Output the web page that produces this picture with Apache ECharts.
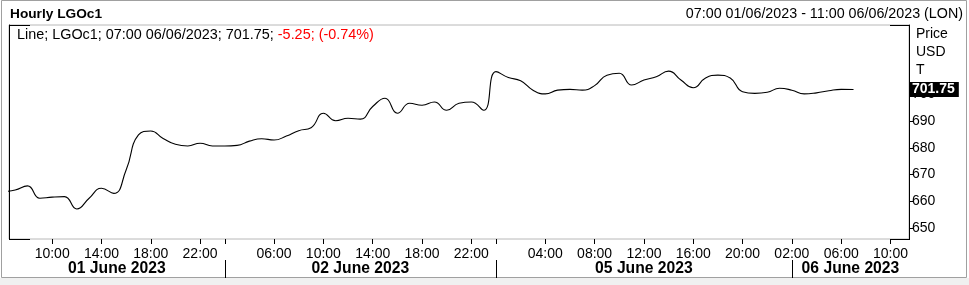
<!DOCTYPE html>
<html>
<head>
<meta charset="utf-8">
<script src="https://cdn.jsdelivr.net/npm/echarts@6/dist/echarts.min.js"></script>
<style>
html,body{margin:0;padding:0;background:#fff;}
#chart{width:969px;height:285px;}
</style>
</head>
<body>
<div id="chart"></div>
<script>
// Hourly trading slots (overnight and weekend gaps removed)
const times = [
  "01/06 06:00","01/06 07:00","01/06 08:00","01/06 09:00","01/06 10:00","01/06 11:00","01/06 12:00","01/06 13:00",
  "01/06 14:00","01/06 15:00","01/06 16:00","01/06 17:00","01/06 18:00","01/06 19:00","01/06 20:00","01/06 21:00","01/06 22:00",
  "02/06 01:00","02/06 02:00","02/06 03:00","02/06 04:00","02/06 05:00","02/06 06:00","02/06 07:00","02/06 08:00",
  "02/06 09:00","02/06 10:00","02/06 11:00","02/06 12:00","02/06 13:00","02/06 14:00","02/06 15:00","02/06 16:00",
  "02/06 17:00","02/06 18:00","02/06 19:00","02/06 20:00","02/06 21:00","02/06 22:00",
  "04/06 23:00","05/06 00:00",
  "05/06 01:00","05/06 02:00","05/06 03:00","05/06 04:00","05/06 05:00","05/06 06:00","05/06 07:00","05/06 08:00",
  "05/06 09:00","05/06 10:00","05/06 11:00","05/06 12:00","05/06 13:00","05/06 14:00","05/06 15:00","05/06 16:00",
  "05/06 17:00","05/06 18:00","05/06 19:00","05/06 20:00","05/06 21:00","05/06 22:00",
  "06/06 01:00","06/06 02:00","06/06 03:00","06/06 04:00","06/06 05:00","06/06 06:00","06/06 07:00","06/06 08:00",
  "06/06 09:00","06/06 10:00","06/06 11:00"
];
// LGOc1 hourly prices (USD/T)
const prices = [
  663.6,
  664.3, 665.8, 661.2, 661.6, 661.8, 657.2, 661.2, 664.9, 663.0, 671.7, 684.8, 686.3, 683.5, 681.3, 680.7, 681.7,
  680.7, 680.7, 680.9, 682.5, 683.4, 682.9, 684.4, 686.4, 687.5, 692.9, 690.1, 691.0, 690.7, 695.4, 698.5, 692.9,
  696.6, 695.9, 697.1, 694.0, 696.6, 697.1,
  694.0, 708.4,
  706.2, 705.0, 701.5, 700.1, 701.5, 701.8, 701.5, 703.2, 707.1, 707.8, 703.4, 705.3, 706.5, 708.6, 705.3, 702.4,
  706.0, 707.1, 706.0, 700.9, 700.3, 700.7,
  702.2, 701.5, 700.1, 700.5, 701.3, 701.8, 701.75
];
const priceTicks = [650, 660, 670, 680, 690, 700];
const tickTimes = [
  "01/06 10:00","01/06 14:00","01/06 18:00","01/06 22:00","02/06 02:00",
  "02/06 06:00","02/06 10:00","02/06 14:00","02/06 18:00","02/06 22:00","05/06 00:00",
  "05/06 04:00","05/06 08:00","05/06 12:00","05/06 16:00","05/06 20:00",
  "06/06 02:00","06/06 06:00","06/06 10:00"
];
const labelTimes = [
  "01/06 10:00","01/06 14:00","01/06 18:00","01/06 22:00",
  "02/06 06:00","02/06 10:00","02/06 14:00","02/06 18:00","02/06 22:00",
  "05/06 04:00","05/06 08:00","05/06 12:00","05/06 16:00","05/06 20:00",
  "06/06 02:00","06/06 06:00","06/06 10:00"
];
const sepTimes = ["02/06 02:00","05/06 00:00","06/06 02:00"];
const dayLabels = ["01 June 2023","02 June 2023","05 June 2023","06 June 2023"];

const FONT = '"Liberation Sans", Arial, sans-serif';
const xMin = 0.5, xMax = times.length - 0.5;
const idx = t => times.indexOf(t);
const sepIdx = sepTimes.map(idx);
const bounds = [xMin].concat(sepIdx, [xMax]);
const mids = dayLabels.map((d, i) => (bounds[i] + bounds[i + 1]) / 2);
const lastVal = prices[prices.length - 1];

const chart = echarts.init(document.getElementById('chart'), null, {renderer: 'canvas'});
chart.setOption({
  animation: false,
  backgroundColor: '#fff',
  grid: {left: 9, right: 60, top: 25, bottom: 46, show: true, borderColor: '#b8b8b8', borderWidth: 1, backgroundColor: '#fff'},
  xAxis: [{
    type: 'value', min: xMin, max: xMax, position: 'bottom',
    axisLine: {show: false}, splitLine: {show: false},
    axisTick: {show: true, customValues: tickTimes.map(idx), length: 5, lineStyle: {color: '#000', width: 1}},
    axisLabel: {customValues: labelTimes.map(idx), formatter: v => times[Math.round(v)].slice(6),
      fontSize: 14, color: '#000', margin: 8, fontFamily: FONT}
  }, {
    type: 'value', min: xMin, max: xMax, position: 'bottom', offset: 21,
    axisLine: {show: false}, splitLine: {show: false},
    axisTick: {show: true, customValues: sepIdx, length: 18, lineStyle: {color: '#000', width: 1}},
    axisLabel: {customValues: mids, formatter: v => {
        let best = 0; mids.forEach((m, i) => { if (Math.abs(m - v) < Math.abs(mids[best] - v)) best = i; });
        return dayLabels[best];
      }, fontSize: 15.7, fontWeight: 'bold', color: '#000', margin: 1, fontFamily: FONT}
  }],
  yAxis: [{
    type: 'value', position: 'right', min: 646, max: 725.8,
    axisLine: {show: true, lineStyle: {color: '#000', width: 1}},
    axisTick: {show: true, customValues: priceTicks, length: 4, lineStyle: {color: '#000'}},
    axisLabel: {customValues: priceTicks, fontSize: 14, color: '#000', margin: 3, fontFamily: FONT},
    splitLine: {show: false}
  }, {
    type: 'value', position: 'left', min: 646, max: 725.8,
    axisLine: {show: true, lineStyle: {color: '#000', width: 1}},
    axisTick: {show: false}, axisLabel: {show: false}, splitLine: {show: false}
  }],
  series: [{
    type: 'line',
    xAxisIndex: 0, yAxisIndex: 0,
    data: prices.map((v, i) => [i, v]),
    showSymbol: false, smooth: 0.5, clip: true,
    lineStyle: {color: '#000', width: 1.1},
    markLine: {
      silent: true, symbol: 'none', z: 20,
      lineStyle: {color: 'rgba(0,0,0,0)', width: 0, type: 'solid'},
      data: [{yAxis: lastVal}],
      label: {show: true, position: 'end', distance: 1, formatter: () => lastVal.toFixed(2),
        backgroundColor: '#000', color: '#fff', fontWeight: 'bold', fontSize: 14,
        padding: [1, 4, 0, 2], fontFamily: FONT}
    }
  }],
  graphic: [
    {type: 'rect', z: -10, shape: {x: 0, y: 278, width: 969, height: 7}, style: {fill: '#f0f0f0'}},
    {type: 'rect', z: -5, shape: {x: 1.5, y: 0.5, width: 965, height: 277}, style: {fill: 'none', stroke: '#a0a0a0', lineWidth: 1}},
    {type: 'line', z: 100, shape: {x1: 9, y1: 25.5, x2: 30, y2: 25.5}, style: {stroke: '#000', lineWidth: 1}},
    {type: 'line', z: 100, shape: {x1: 890, y1: 25.5, x2: 910, y2: 25.5}, style: {stroke: '#000', lineWidth: 1}},
    {type: 'line', z: 100, shape: {x1: 9, y1: 239.5, x2: 30, y2: 239.5}, style: {stroke: '#000', lineWidth: 1}},
    {type: 'line', z: 100, shape: {x1: 890, y1: 239.5, x2: 910, y2: 239.5}, style: {stroke: '#000', lineWidth: 1}},
    {type: 'text', left: 10, top: 7, style: {text: 'Hourly LGOc1', fill: '#000', font: 'bold 13.7px ' + FONT}},
    {type: 'text', right: 6, top: 7, style: {text: '07:00 01/06/2023 - 11:00 06/06/2023 (LON)', fill: '#000', font: '14.3px ' + FONT}},
    {type: 'text', left: 17, top: 28, style: {
      text: '{b|Line; LGOc1; 07:00 06/06/2023; ' + lastVal.toFixed(2) + '; }{r|-5.25; (-0.74%)}',
      rich: {b: {fill: '#000', font: '14.4px ' + FONT}, r: {fill: '#ff0000', font: '14.4px ' + FONT}}
    }},
    {type: 'text', left: 916, top: 25, style: {text: 'Price\nUSD\nT', fill: '#000', font: '14px ' + FONT, lineHeight: 18}}
  ]
});
</script>
</body>
</html>
